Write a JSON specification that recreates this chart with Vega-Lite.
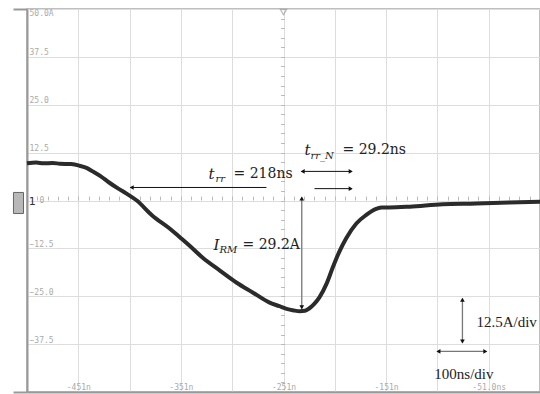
{
  "$schema": "https://vega.github.io/schema/vega-lite/v6.json",
  "width": 513,
  "height": 383,
  "autosize": {"type": "none"},
  "padding": {"left": 27, "top": 9, "right": 0, "bottom": 2},
  "background": "white",
  "config": {
    "view": {"stroke": "#aaa", "strokeWidth": 1.5},
    "axis": {"labelFont": "DejaVu Sans Mono", "labelFontSize": 8, "labelColor": "#aaa", "title": null}
  },
  "datasets": {
    "wave": [
      {"t": -501, "i": 9.7}, {"t": -492, "i": 9.9}, {"t": -485, "i": 9.7}, {"t": -476, "i": 9.8},
      {"t": -469, "i": 9.6}, {"t": -458, "i": 9.5}, {"t": -450, "i": 9.1}, {"t": -443, "i": 8.5}, {"t": -437, "i": 7.6},
      {"t": -429, "i": 6.3}, {"t": -421, "i": 4.7}, {"t": -412, "i": 3.1}, {"t": -404, "i": 1.8}, {"t": -394, "i": 0.0}, {"t": -379, "i": -3.9},
      {"t": -362, "i": -7.3}, {"t": -352, "i": -9.6}, {"t": -343, "i": -11.7}, {"t": -330, "i": -14.9},
      {"t": -313, "i": -18.3}, {"t": -297, "i": -21.4}, {"t": -281, "i": -24.0}, {"t": -265, "i": -26.6},
      {"t": -255, "i": -27.6}, {"t": -248, "i": -28.3}, {"t": -241, "i": -28.7}, {"t": -235, "i": -28.9}, {"t": -230, "i": -28.8}, {"t": -226, "i": -28.2},
      {"t": -221, "i": -27.0}, {"t": -216, "i": -25.3}, {"t": -209, "i": -21.7}, {"t": -203, "i": -17.5}, {"t": -197, "i": -13.6},
      {"t": -190, "i": -9.9}, {"t": -180, "i": -6.0}, {"t": -170, "i": -3.7}, {"t": -164, "i": -2.6},
      {"t": -160, "i": -2.1}, {"t": -155, "i": -1.8}, {"t": -148, "i": -1.8}, {"t": -128, "i": -1.6},
      {"t": -96, "i": -1.0}, {"t": -63, "i": -0.8}, {"t": -31, "i": -0.5}, {"t": -1, "i": -0.3}
    ],
    "arrowsDark": [
      {"x": -400.1, "x2": -267.6, "y": 3.4, "y2": 3.4},
      {"x": -220.8, "x2": -184.5, "y": 3.1, "y2": 3.1},
      {"x": -233.4, "x2": -184.5, "y": 7.6, "y2": 7.6}
    ],
    "arrowsGray": [
      {"x": -233.2, "x2": -233.2, "y": 0.8, "y2": -28.2},
      {"x": -76.6, "x2": -76.6, "y": -25.6, "y2": -37.1},
      {"x": -101, "x2": -53.3, "y": -39.4, "y2": -39.4}
    ],
    "heads": [
      {"x": -399, "y": 3.4, "dir": "left"},
      {"x": -185.5, "y": 3.1, "dir": "right"},
      {"x": -232.3, "y": 7.6, "dir": "left"},
      {"x": -185.5, "y": 7.6, "dir": "right"},
      {"x": -233.2, "y": 0.5, "dir": "up"},
      {"x": -233.2, "y": -27.9, "dir": "down"},
      {"x": -76.6, "y": -25.9, "dir": "up"},
      {"x": -76.6, "y": -36.8, "dir": "down"},
      {"x": -100, "y": -39.4, "dir": "left"},
      {"x": -54.3, "y": -39.4, "dir": "right"}
    ],
    "italicText": [
      {"x": -324.1, "y": 7.0, "text": "t", "role": "main"},
      {"x": -317.3, "y": 5.6, "text": "rr", "role": "sub"},
      {"x": -230.5, "y": 13.1, "text": "t", "role": "main"},
      {"x": -224.7, "y": 11.7, "text": "rr_N", "role": "sub"},
      {"x": -319.2, "y": -11.7, "text": "I", "role": "main"},
      {"x": -313.4, "y": -12.9, "text": "RM", "role": "sub"}
    ],
    "plainText": [
      {"x": -299.7, "y": 7.0, "text": "= 218ns"},
      {"x": -193.5, "y": 13.1, "text": "= 29.2ns"},
      {"x": -291.0, "y": -11.7, "text": "= 29.2A"}
    ],
    "scaleText": [
      {"x": -63, "y": -31.8, "text": "12.5A/div"},
      {"x": -104, "y": -45.3, "text": "100ns/div"}
    ],
    "trigger": [{"x": -251, "y": 49.2}],
    "channel": [{"x": -499.3, "y": -0.3, "text": "1"}],
    "icon": [{"x": -514.2, "x2": -504.4, "y": 2.1, "y2": -3.4}]
  },
  "resolve": {"axis": {"x": "independent", "y": "independent"}},
  "layer": [
    {
      "data": {"name": "wave"},
      "mark": {"type": "line", "color": "#2b2b2b", "strokeWidth": 4, "strokeJoin": "round", "interpolate": "monotone"},
      "encoding": {
        "x": {
          "field": "t", "type": "quantitative",
          "scale": {"domain": [-501, -1], "nice": false, "zero": false},
          "axis": {
            "orient": "bottom",
            "values": [-501, -451, -401, -351, -301, -251, -201, -151, -101, -51, -1],
            "grid": true, "gridColor": "#dddddd", "gridWidth": 1,
            "ticks": false, "domain": true, "domainColor": "#999", "domainWidth": 2,
            "labelExpr": "datum.value==-51?'-51.0ns':(datum.value==-451||datum.value==-351||datum.value==-251||datum.value==-151)?datum.value+'n':''",
            "labelBaseline": "bottom", "labelPadding": -1,
            "labelFlush": false, "labelOverlap": false, "labelBound": false
          }
        },
        "y": {
          "field": "i", "type": "quantitative",
          "scale": {"domain": [-50, 50], "nice": false, "zero": false},
          "axis": {
            "orient": "left",
            "values": [-50, -37.5, -25, -12.5, 0, 12.5, 25, 37.5, 50],
            "grid": true, "gridColor": "#dddddd", "gridWidth": 1,
            "domain": true, "domainColor": "#999", "domainWidth": 2,
            "ticks": true, "tickSize": 14, "tickWidth": 2, "tickColor": "#999",
            "tickOpacity": {"condition": {"test": "abs(datum.value)==50", "value": 1}, "value": 0},
            "labelAlign": "left",
            "labelPadding": {"condition": {"test": "datum.value==0", "value": -26}, "value": -16},
            "labelBaseline": {"condition": [{"test": "datum.value==50", "value": "top"}, {"test": "datum.value==0", "value": "middle"}], "value": "bottom"},
            "labelExpr": "datum.value==50?'50.0A':datum.value==-50?'':datum.value==0?'0':format(datum.value,'.1f')",
            "labelFlush": false, "labelOverlap": false, "labelBound": false
          }
        }
      }
    },
    {
      "data": {"name": "trigger"},
      "mark": {"type": "point", "shape": "triangle-down", "size": 40, "filled": false, "stroke": "#999", "strokeWidth": 1.2},
      "encoding": {
        "x": {
          "field": "x", "type": "quantitative",
          "axis": {
            "orient": "top", "offset": -191, "domain": false, "grid": false, "labels": false,
            "ticks": true, "tickSize": 4, "tickColor": "#bbbbbb", "tickWidth": 1,
            "values": [-491, -481, -471, -461, -451, -441, -431, -421, -411, -401, -391, -381, -371, -361, -351, -341, -331, -321, -311, -301, -291, -281, -271, -261, -251, -241, -231, -221, -211, -201, -191, -181, -171, -161, -151, -141, -131, -121, -111, -101, -91, -81, -71, -61, -51, -41, -31, -21, -11]
          }
        },
        "y": {
          "field": "y", "type": "quantitative",
          "axis": {
            "orient": "left", "offset": -257.5, "domain": false, "grid": false, "labels": false,
            "ticks": true, "tickSize": 4, "tickColor": "#bbbbbb", "tickWidth": 1,
            "values": [-47.5, -45, -42.5, -40, -37.5, -35, -32.5, -30, -27.5, -25, -22.5, -20, -17.5, -15, -12.5, -10, -7.5, -5, -2.5, 0, 2.5, 5, 7.5, 10, 12.5, 15, 17.5, 20, 22.5, 25, 27.5, 30, 32.5, 35, 37.5, 40, 42.5, 45, 47.5]
          }
        }
      }
    },
    {
      "data": {"name": "arrowsDark"},
      "mark": {"type": "rule", "color": "#111", "strokeWidth": 1},
      "encoding": {
        "x": {"field": "x", "type": "quantitative", "axis": null},
        "x2": {"field": "x2"},
        "y": {"field": "y", "type": "quantitative", "axis": null},
        "y2": {"field": "y2"}
      }
    },
    {
      "data": {"name": "arrowsGray"},
      "mark": {"type": "rule", "color": "#777", "strokeWidth": 1.3},
      "encoding": {
        "x": {"field": "x", "type": "quantitative", "axis": null},
        "x2": {"field": "x2"},
        "y": {"field": "y", "type": "quantitative", "axis": null},
        "y2": {"field": "y2"}
      }
    },
    {
      "data": {"name": "heads"},
      "mark": {"type": "point", "filled": true, "color": "#111", "size": 22, "opacity": 1},
      "encoding": {
        "x": {"field": "x", "type": "quantitative", "axis": null},
        "y": {"field": "y", "type": "quantitative", "axis": null},
        "shape": {
          "field": "dir", "type": "nominal", "legend": null,
          "scale": {"domain": ["left", "right", "up", "down"], "range": ["triangle-left", "triangle-right", "triangle-up", "triangle-down"]}
        }
      }
    },
    {
      "data": {"name": "italicText"},
      "mark": {"type": "text", "font": "DejaVu Serif", "fontStyle": "italic", "align": "left", "baseline": "middle", "color": "#222"},
      "encoding": {
        "x": {"field": "x", "type": "quantitative", "axis": null},
        "y": {"field": "y", "type": "quantitative", "axis": null},
        "text": {"field": "text"},
        "size": {"field": "role", "type": "nominal", "legend": null, "scale": {"domain": ["main", "sub"], "range": [15, 10]}}
      }
    },
    {
      "data": {"name": "plainText"},
      "mark": {"type": "text", "font": "DejaVu Serif", "fontSize": 14, "align": "left", "baseline": "middle", "color": "#222"},
      "encoding": {
        "x": {"field": "x", "type": "quantitative", "axis": null},
        "y": {"field": "y", "type": "quantitative", "axis": null},
        "text": {"field": "text"}
      }
    },
    {
      "data": {"name": "scaleText"},
      "mark": {"type": "text", "font": "Liberation Serif", "fontSize": 15, "align": "left", "baseline": "middle", "color": "#222"},
      "encoding": {
        "x": {"field": "x", "type": "quantitative", "axis": null},
        "y": {"field": "y", "type": "quantitative", "axis": null},
        "text": {"field": "text"}
      }
    },
    {
      "data": {"name": "icon"},
      "mark": {"type": "rect", "fill": "#b8b8b8", "stroke": "#666", "strokeWidth": 1},
      "encoding": {
        "x": {"field": "x", "type": "quantitative", "axis": null},
        "x2": {"field": "x2"},
        "y": {"field": "y", "type": "quantitative", "axis": null},
        "y2": {"field": "y2"}
      }
    },
    {
      "data": {"name": "channel"},
      "mark": {"type": "text", "font": "DejaVu Sans", "fontSize": 11, "align": "left", "baseline": "middle", "color": "#333"},
      "encoding": {
        "x": {"field": "x", "type": "quantitative", "axis": null},
        "y": {"field": "y", "type": "quantitative", "axis": null},
        "text": {"field": "text"}
      }
    }
  ]
}
